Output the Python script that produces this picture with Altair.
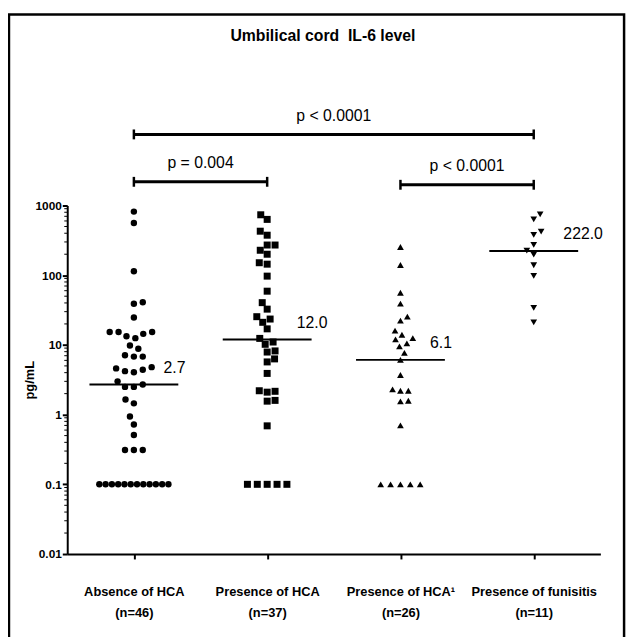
import math
import altair as alt
import pandas as pd

# ---------------- data ----------------
TITLE = "Umbilical cord\u00a0 IL-6 level"
Y_TITLE = "pg/mL"
GROUPS = ["Absence of HCA", "Presence of HCA", "Presence of HCA¹", "Presence of funisitis"]
GROUP_N = [46, 37, 26, 11]
SHAPES = ["circle", "square", "triangle-up", "triangle-down"]

FLOOR_VALUE = 0.1
FLOOR_COUNTS = [12, 5, 5, 0]

VALUES_ABSENCE = [818, 560, 114, 41, 39, 24.7, 15.3, 14.4, 13.3, 12.5, 15.3, 15.3,
                  8.8, 9.8, 6.8, 6.8, 7.1, 4.8, 4.4, 4.05, 4.2, 4.6, 3.0, 2.5, 2.5, 2.7,
                  1.45, 1.65, 0.94, 0.72, 0.51, 0.31, 0.31, 0.31]
VALUES_PRESENCE = [736, 632, 428, 375, 271, 200, 228, 271, 151, 144, 97, 59, 40.4, 32.6,
                   23.5, 25.4, 21.1, 17, 12.4, 11.0, 10.2, 8.2, 7.9, 6.3, 5.7, 3.9,
                   2.1, 2.2, 2.16, 1.56, 1.6, 0.69]
VALUES_PRESENCE_1 = [254, 140, 56, 39, 25.4, 22.3, 16, 14, 12.5, 12, 10.5, 9.5, 7.7, 6.1,
                     3.7, 2.3, 2.2, 2.2, 1.55, 1.58, 0.70]
VALUES_FUNISITIS = [747, 634, 421, 378, 272, 226, 197, 139, 98, 34, 21]

MEDIANS = [2.7, 12.0, 6.1, 222.0]
MEDIAN_LABELS = ["2.7", "12.0", "6.1", "222.0"]

COMP_FROM = [0, 0, 2]
COMP_TO = [3, 1, 3]
COMP_TEXT = ["p < 0.0001", "p = 0.004", "p < 0.0001"]

Y_TICKS = [0.01, 0.1, 1, 10, 100, 1000]

# ---------------- layout / style ----------------
FONT = "Liberation Sans"
PLOT_W = 540
PLOT_H = 353
XUNIT = PLOT_W / 4.0
PPD = PLOT_H / 5.0  # pixels per decade
MARK_SIZE = {"circle": 42, "square": 50, "triangle-up": 46, "triangle-down": 46}
SWARM_D = [9.0, 8.0, 8.0, 8.0]
BRACKET_PX = [-72, -24, -21]


def swarm(values, d):
    """Simple beeswarm: horizontal pixel offsets avoiding overlaps."""
    order = sorted(range(len(values)), key=lambda i: values[i])
    placed = []
    offs = [0.0] * len(values)
    cands = [0.0]
    for k in range(1, 90):
        c = k * 0.5
        cands += [c, -c]
    for n, i in enumerate(order):
        y = math.log10(values[i]) * PPD
        flip = -1 if n % 2 else 1
        for c in cands:
            cc = c * flip
            if all((cc - px) ** 2 + (y - py) ** 2 >= d * d for px, py in placed):
                offs[i] = cc
                placed.append((cc, y))
                break
    return offs


all_values = [VALUES_ABSENCE, VALUES_PRESENCE, VALUES_PRESENCE_1, VALUES_FUNISITIS]
rows = []
for g, vals in enumerate(all_values):
    offs = swarm(vals, SWARM_D[g])
    for v, o in zip(vals, offs):
        rows.append({"xpos": g + o / XUNIT, "value": v, "shape": SHAPES[g],
                     "size": MARK_SIZE[SHAPES[g]]})
    k = FLOOR_COUNTS[g]
    if k:
        sp = min(10.0, 70.0 / max(k - 1, 1))
        for j in range(k):
            o = (j - (k - 1) / 2.0) * sp
            rows.append({"xpos": g + o / XUNIT, "value": FLOOR_VALUE, "shape": SHAPES[g],
                         "size": MARK_SIZE[SHAPES[g]]})
pts = pd.DataFrame(rows)

xscale = alt.Scale(domain=[-0.5, 3.5], nice=False, zero=False)
yscale = alt.Scale(type="log", domain=[0.01, 1000], nice=False)

label_js = "[" + ",".join(
    "['%s','(n=%d)']" % (name, n) for name, n in zip(GROUPS, GROUP_N)) + "][datum.value]"

x_axis = alt.Axis(values=[0, 1, 2, 3], labelExpr=label_js, title=None, grid=False,
                  tickSize=5, tickWidth=2, tickColor="black", domainColor="black",
                  domainWidth=2, labelFont=FONT, labelFontSize=13, labelFontWeight="bold",
                  labelColor="black", labelPadding=27, labelLineHeight=21, labelAngle=0)
y_axis = alt.Axis(values=Y_TICKS, labelExpr="format(datum.value, '~g')", title=Y_TITLE,
                  grid=False, tickSize=5, tickWidth=2, tickColor="black",
                  domainColor="black", domainWidth=2, labelFont=FONT, labelFontSize=12,
                  labelFontWeight="bold", labelColor="black", labelPadding=1,
                  titleFont=FONT, titleFontSize=13, titleFontWeight="bold",
                  titleColor="black", titleAngle=-90, titleX=-38, titleY=PLOT_H / 2,
                  titleAlign="center", titleBaseline="middle")


def X(field):
    return alt.X(field, scale=xscale, axis=x_axis)


def Y(field):
    return alt.Y(field, scale=yscale, axis=y_axis)


points = alt.Chart(pts).mark_point(filled=True, opacity=1, color="black").encode(
    x=X("xpos:Q"),
    y=Y("value:Q"),
    shape=alt.Shape("shape:N", scale=None),
    size=alt.Size("size:Q", scale=None),
)

med_df = pd.DataFrame({"g": list(range(4)), "median": MEDIANS, "label": MEDIAN_LABELS})
med_lines = alt.Chart(med_df).mark_tick(orient="horizontal", size=90, thickness=2,
                                         color="black", opacity=1).encode(
    x=X("g:Q"), y=Y("median:Q"))
med_text = alt.Chart(med_df).mark_text(align="left", baseline="middle", dx=30, dy=-17,
                                        font=FONT, fontSize=16, color="black").encode(
    x=X("g:Q"), y=Y("median:Q"), text="label:N")

minor_vals = [k * 10.0 ** e for e in range(-2, 3) for k in range(2, 10)]
minor = alt.Chart(pd.DataFrame({"m": minor_vals})).mark_rule(
    color="black", strokeWidth=1).encode(
    x=alt.value(-3), x2=alt.value(0), y=Y("m:Q"))

layers = [points, med_lines, med_text, minor]
for i in range(3):
    b = BRACKET_PX[i]
    bdf = pd.DataFrame({"a": [COMP_FROM[i]], "b": [COMP_TO[i]],
                        "mid": [(COMP_FROM[i] + COMP_TO[i]) / 2.0], "t": [COMP_TEXT[i]]})
    cdf = pd.DataFrame({"e": [COMP_FROM[i], COMP_TO[i]]})
    layers.append(alt.Chart(bdf).mark_rule(color="black", strokeWidth=3).encode(
        x=X("a:Q"), x2="b:Q", y=alt.value(b)))
    layers.append(alt.Chart(cdf).mark_rule(color="black", strokeWidth=2.5).encode(
        x=X("e:Q"), y=alt.value(b - 5), y2=alt.value(b + 5)))
    layers.append(alt.Chart(bdf).mark_text(font=FONT, fontSize=16, color="black",
                                           baseline="middle").encode(
        x=X("mid:Q"), y=alt.value(b - 19), text="t:N"))

one = pd.DataFrame({"k": [0]})
title = alt.Chart(one).mark_text(font=FONT, fontSize=16, fontWeight="bold", color="black",
                                 baseline="middle").encode(
    x=alt.value(259), y=alt.value(-172), text=alt.value(TITLE))
frame = alt.Chart(one).mark_rect(fillOpacity=0, stroke="black", strokeWidth=2.5).encode(
    x=alt.value(-59), x2=alt.value(564), y=alt.value(-193.5), y2=alt.value(445))
layers += [title, frame]

chart = alt.layer(*layers).properties(
    width=PLOT_W, height=PLOT_H,
    autosize=alt.AutoSizeParams(type="none"),
    padding={"left": 60, "top": 196, "right": 30, "bottom": 80},
    background="white",
).configure_view(stroke=None)

chart.save("out.html", embed_options={"renderer": "svg", "actions": False})
